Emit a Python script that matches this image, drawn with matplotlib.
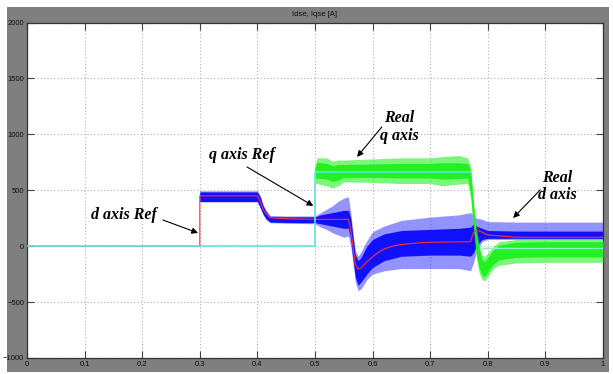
import numpy as np
import matplotlib.pyplot as plt
from matplotlib.patches import Rectangle

# d axis real current (blue): outer spikes and dense core, t in seconds, values in A
d_t = [0.300, 0.300, 0.400, 0.405, 0.410, 0.415, 0.422, 0.450, 0.500, 0.510,
       0.520, 0.530, 0.540, 0.550, 0.558, 0.562, 0.566, 0.570, 0.575, 0.580,
       0.590, 0.600, 0.620, 0.650, 0.700, 0.750, 0.770, 0.775, 0.780, 0.790,
       0.800, 0.850, 0.900, 0.950, 1.000]
d_hi = [0, 495, 495, 450, 370, 320, 275, 270, 270, 300,
        330, 360, 400, 430, 440, 300, 120, -40, -90, -50,
        50, 130, 180, 230, 260, 280, 300, 280, 250, 240,
        220, 215, 215, 215, 215]
d_lo = [0, 395, 395, 340, 280, 240, 210, 205, 200, 170,
        150, 120, 100, 80, 90, 0, -150, -320, -400, -380,
        -300, -250, -220, -200, -200, -200, -220, -150, -50, 40,
        60, 60, 60, 60, 60]
d_core_hi = [0, 485, 485, 440, 360, 310, 265, 262, 262, 280,
             290, 300, 310, 320, 320, 250, 80, -80, -130, -100,
             0, 60, 110, 140, 150, 160, 170, 200, 180, 160,
             140, 135, 135, 135, 135]
d_core_lo = [0, 400, 400, 345, 285, 245, 215, 212, 210, 200,
             190, 180, 170, 160, 160, 60, -120, -280, -350, -320,
             -250, -190, -130, -90, -80, -80, -90, -60, 0, 60,
             70, 70, 70, 70, 70]

# q axis real current (green)
q_t = [0.500, 0.500, 0.503, 0.520, 0.530, 0.540, 0.550, 0.600, 0.650, 0.700,
       0.720, 0.750, 0.765, 0.770, 0.775, 0.780, 0.785, 0.790, 0.795, 0.800,
       0.810, 0.820, 0.850, 0.900, 0.950, 1.000]
q_hi = [0, 700, 790, 790, 760, 770, 770, 780, 790, 790,
        800, 810, 790, 720, 420, 160, 20, -80, -90, -60,
        0, 40, 60, 60, 60, 60]
q_lo = [0, 560, 560, 540, 520, 540, 575, 570, 560, 560,
        540, 555, 560, 430, 150, -100, -240, -300, -310, -270,
        -200, -170, -150, -145, -145, -145]
q_core_hi = [0, 700, 750, 740, 720, 730, 730, 735, 740, 740,
             745, 745, 740, 680, 380, 120, -20, -120, -140, -100,
             -30, 10, 35, 40, 40, 40]
q_core_lo = [0, 600, 610, 600, 580, 590, 615, 615, 610, 610,
             600, 605, 610, 480, 200, -60, -200, -260, -270, -230,
             -160, -120, -100, -95, -95, -95]

# references
dref_t = [0, 0.3, 0.3, 0.4, 0.405, 0.41, 0.415, 0.422, 0.45, 0.5,
          0.558, 0.562, 0.566, 0.57, 0.575, 0.58, 0.59, 0.6, 0.61, 0.62,
          0.635, 0.65, 0.68, 0.7, 0.77, 0.775, 0.78, 0.79, 0.8, 0.85, 1.0]
dref_v = [0, 0, 450, 450, 400, 330, 290, 255, 245, 240,
          240, 150, 0, -160, -205, -195, -140, -95, -55, -25,
          0, 15, 30, 35, 40, 120, 145, 125, 100, 80, 80]
qref_t = [0, 0.5, 0.5, 0.77]
qref_v = [0, 0, 665, 665]
qref_t2 = [0.79, 1.0]
qref_v2 = [-20, -20]

xticks = np.round(np.arange(0, 1.01, 0.1), 1)
xtick_labels = ["0", "0.1", "0.2", "0.3", "0.4", "0.5", "0.6", "0.7", "0.8", "0.9", "1"]
yticks = [-1000, -500, 0, 500, 1000, 1500, 2000]

W, H = 613, 374
fig = plt.figure(figsize=(W / 100, H / 100), dpi=100)
fig.patches.append(Rectangle((7 / W, 2 / H), 602 / W, 365 / H,
                             transform=fig.transFigure, facecolor="#7f7f7f",
                             edgecolor="none", zorder=-10))
ax = fig.add_axes([27 / W, 16 / H, 576 / W, 335.5 / H])
ax.set_facecolor("white")

blue = "#1010ff"
green = "#22f022"

ax.fill_between(d_t, d_lo, d_hi, color=blue, alpha=0.45, lw=0, zorder=2)
ax.fill_between(d_t, d_core_lo, d_core_hi, color=blue, lw=0, zorder=2)
ax.fill_between(q_t, q_lo, q_hi, color=green, alpha=0.6, lw=0, zorder=3)
ax.fill_between(q_t, q_core_lo, q_core_hi, color=green, lw=0, zorder=3)
ax.plot(dref_t, dref_v, color="#ff3030", lw=0.8, zorder=4)
ax.plot(qref_t, qref_v, color="#60e6e0", lw=1.2, zorder=5)
ax.plot(qref_t2, qref_v2, color="#8cf0c8", lw=1.0, zorder=5)

ax.set_xlim(0, 1)
ax.set_ylim(-1000, 2000)
ax.set_xticks(xticks)
ax.set_xticklabels(xtick_labels)
ax.set_yticks(yticks)
ax.grid(True, color="#b0b0b0", ls=(0, (1, 2)), lw=0.8)
ax.tick_params(direction="in", length=5, width=0.8, color="#444444",
               top=True, right=True, labelsize=5.5, labelcolor="#111111", pad=2)
for lab in ax.get_xticklabels() + ax.get_yticklabels():
    lab.set_family("Liberation Sans")
for s in ax.spines.values():
    s.set_color("#333333")
    s.set_linewidth(0.9)

fig.text(315 / W, 1 - 14 / H, "Idse, Iqse [A]", ha="center", va="center",
         fontsize=5.5, family="Liberation Sans", color="#111111")

font = dict(family="Liberation Serif", style="italic", weight="bold",
            fontsize=11.5, color="black", ha="center", va="center")
arrow = dict(arrowstyle="-|>", color="black", lw=0.8, mutation_scale=9,
             shrinkA=0, shrinkB=0)

ax.text(0.169, 279, "d axis Ref", **font)
ax.annotate("", xy=(0.297, 118), xytext=(0.236, 234), arrowprops=arrow)
ax.text(0.373, 816, "q axis Ref", **font)
ax.annotate("", xy=(0.497, 360), xytext=(0.382, 708), arrowprops=arrow)
ax.text(0.646, 1066, "Real\nq axis", linespacing=1.1, **font)
ax.annotate("", xy=(0.573, 798), xytext=(0.616, 1066), arrowprops=arrow)
ax.text(0.920, 530, "Real\nd axis", linespacing=1.1, **font)
ax.annotate("", xy=(0.844, 252), xytext=(0.891, 503), arrowprops=arrow)

fig.savefig("out.png", dpi=100)
